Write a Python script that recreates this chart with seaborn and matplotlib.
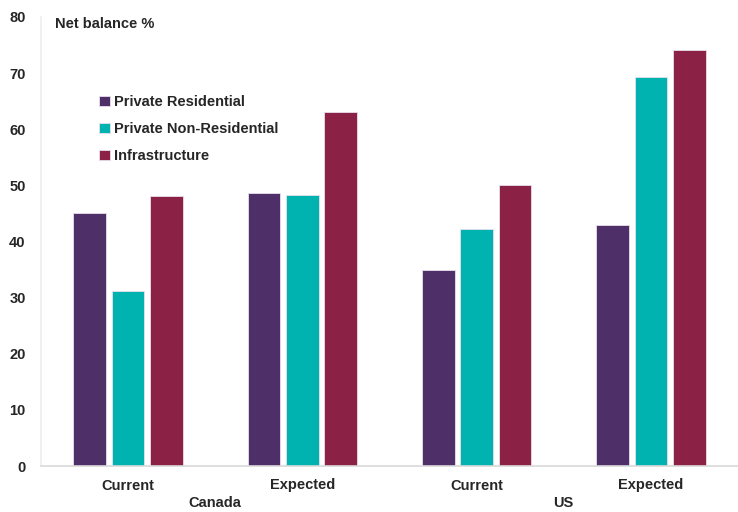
import pandas as pd
import matplotlib.pyplot as plt
import seaborn as sns

# Data
regions = ['Canada', 'Canada', 'US', 'US']
periods = ['Current', 'Expected', 'Current', 'Expected']
series = ['Private Residential', 'Private Non-Residential', 'Infrastructure']
private_residential = [45.1, 48.7, 35.0, 42.9]
private_non_residential = [31.1, 48.2, 42.3, 69.3]
infrastructure = [48.1, 63.1, 50.0, 74.2]

colors = ['#4E2F67', '#00B2B0', '#8B2245']

sns.set_theme(style='white')
plt.rcParams['font.family'] = ['Liberation Sans', 'DejaVu Sans']

keys = [f'{r}|{p}' for r, p in zip(regions, periods)]
rows = []
for name, vals in zip(series, [private_residential, private_non_residential, infrastructure]):
    for k, v in zip(keys, vals):
        rows.append({'key': k, 'series': name, 'value': v})
df = pd.DataFrame(rows)

fig = plt.figure(figsize=(7.38, 5.12), dpi=100)
ax = fig.add_axes([41 / 738, 1 - 466 / 512, 697 / 738, 449 / 512])

sns.barplot(data=df, x='key', y='value', hue='series', order=keys,
            hue_order=series, palette=colors, saturation=1, width=0.66, gap=0.15,
            edgecolor='#E8E0EC', linewidth=0.6, ax=ax, legend=True)

ax.set_ylim(0, 80)
ax.set_xlim(-0.5, 3.5)
ax.set_yticks(range(0, 81, 10))
ax.set_yticklabels([str(t) for t in range(0, 81, 10)], fontsize=10.5, fontweight='bold')
ax.set_xticks(range(4))
ax.set_xticklabels(periods, fontsize=10.5, fontweight='bold')
ax.tick_params(axis='x', length=0, pad=9)
ax.tick_params(axis='y', length=0, pad=11)
ax.set_xlabel('')
ax.set_ylabel('')

for side in ['top', 'right']:
    ax.spines[side].set_visible(False)
ax.spines['left'].set_color('#EDEDED')
ax.spines['bottom'].set_color('#D9D9D9')
ax.spines['left'].set_linewidth(1.2)
ax.spines['bottom'].set_linewidth(1.2)

# second-level region labels
for i, region in enumerate(['Canada', 'US']):
    ax.text(2 * i + 0.5, -0.082, region, transform=ax.get_xaxis_transform(),
            ha='center', va='center', fontsize=10.5, fontweight='bold')

ax.text(0.02, 0.985, 'Net balance %', transform=ax.transAxes,
        ha='left', va='center', fontsize=10.5, fontweight='bold')

leg = ax.legend(loc='upper left', bbox_to_anchor=(0.065, 0.855), frameon=False,
                handlelength=0.7, handleheight=0.7, handletextpad=0.3,
                labelspacing=0.9, prop={'weight': 'bold', 'size': 10.5})

fig.savefig('out.png', dpi=100)
